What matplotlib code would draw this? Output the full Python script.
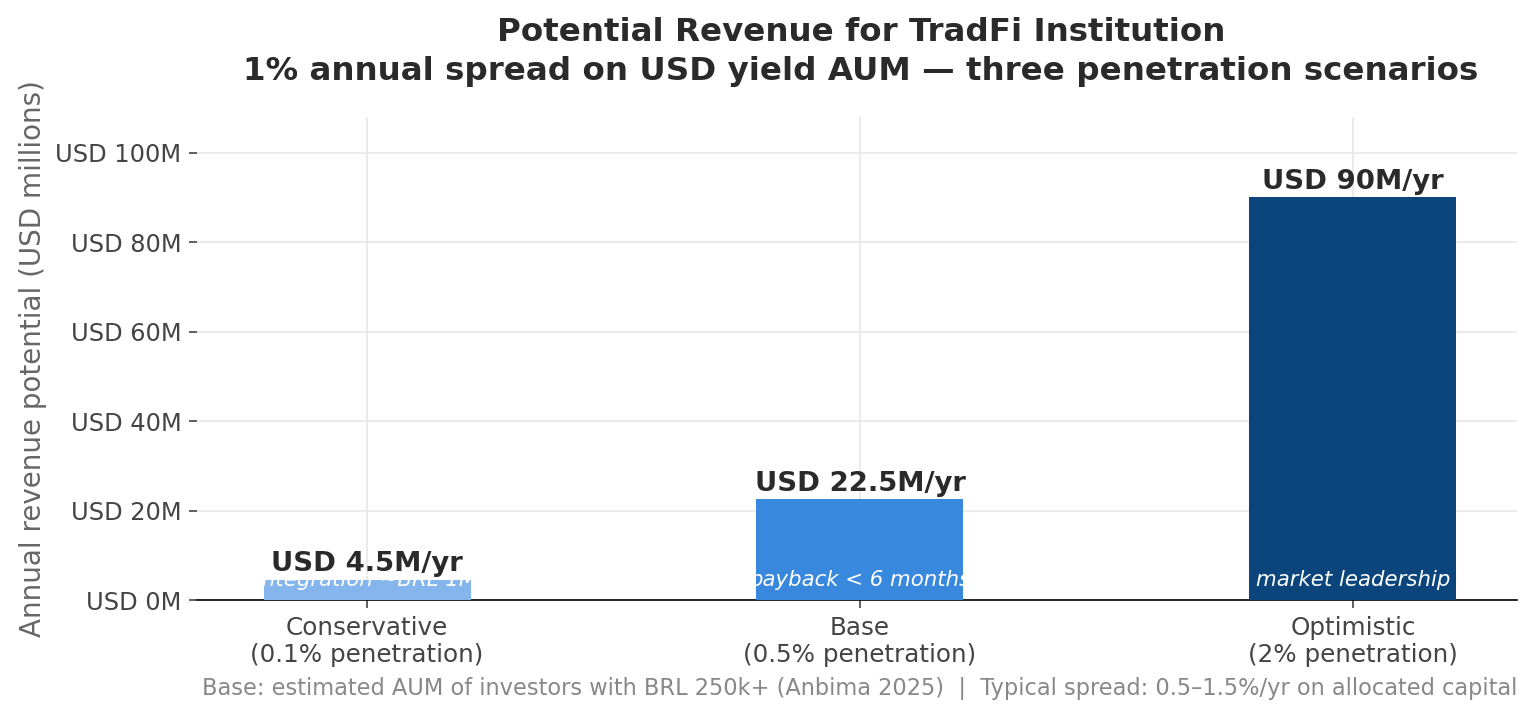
import matplotlib
matplotlib.use("Agg")
import matplotlib.pyplot as plt

scenarios = ["Conservative\n(0.1% penetration)", "Base\n(0.5% penetration)", "Optimistic\n(2% penetration)"]
revenue = [4.5, 22.5, 90.0]
value_labels = ["USD 4.5M/yr", "USD 22.5M/yr", "USD 90M/yr"]
notes = ["integration ~BRL 1M", "payback < 6 months", "market leadership"]
yticks = [0, 20, 40, 60, 80, 100]
colors = ["#84b5ec", "#3889dd", "#0b457b"]

fig = plt.figure(figsize=(10.24, 4.787), dpi=150)
ax = fig.add_axes([197 / 1536, 1 - 600 / 718, 1320 / 1536, 483 / 718])

x = range(len(scenarios))
bars = ax.bar(x, revenue, width=0.42, color=colors, zorder=3)

for b, lab, note in zip(bars, value_labels, notes):
    cx = b.get_x() + b.get_width() / 2
    ax.text(cx, b.get_height() + 0.6, lab, ha="center", va="bottom",
            fontsize=13.2, fontweight="bold", color="#2a2a2a", zorder=5)
    ax.text(cx, 4.5, note, ha="center", va="center", fontsize=10.2,
            style="italic", color="white", zorder=4)

ax.set_xlim(-0.345, 2.333)
ax.set_ylim(0, 108)
ax.set_xticks(list(x))
ax.set_xticklabels(scenarios, fontsize=11.8, color="#444444")
ax.set_yticks(yticks)
ax.set_yticklabels([f"USD {v}M" for v in yticks], fontsize=11.6, color="#444444")
ax.tick_params(axis="both", colors="#444444", length=4)
ax.grid(True, color="#e8e8e8", linewidth=0.8, zorder=0)
for s in ["top", "right", "left"]:
    ax.spines[s].set_visible(False)
ax.spines["bottom"].set_color("black")
ax.set_ylabel("Annual revenue potential (USD millions)", fontsize=13.3, color="#666666")

fig.text(861 / 1536, 1 - 52 / 718,
         "Potential Revenue for TradFi Institution\n1% annual spread on USD yield AUM \u2014 three penetration scenarios",
         ha="center", va="center", fontsize=15.6, fontweight="bold", color="#2a2a2a", linespacing=1.3)
fig.text(1517 / 1536, 1 - 688 / 718,
         "Base: estimated AUM of investors with BRL 250k+ (Anbima 2025)  |  Typical spread: 0.5\u20131.5%/yr on allocated capital",
         ha="right", va="center", fontsize=10.8, color="#888888")

fig.savefig("out.png", dpi=150)
